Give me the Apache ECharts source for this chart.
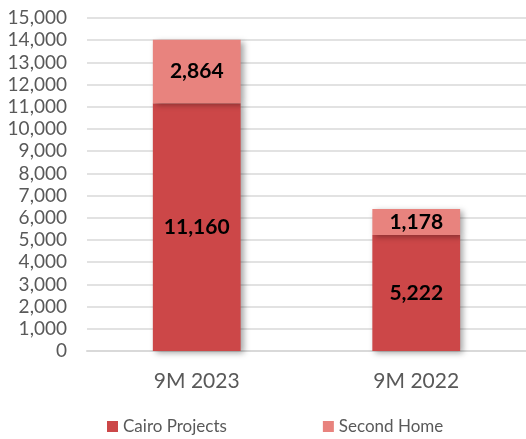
<!DOCTYPE html>
<html><head><meta charset="utf-8">
<script src="https://cdn.jsdelivr.net/npm/echarts@6/dist/echarts.min.js"></script>
<style>html,body{margin:0;padding:0;background:#fff}#c{width:526px;height:439px}</style>
</head><body><div id="c"></div>
<script>
const categories = ['9M 2023', '9M 2022'];
const cairoProjects = [11160, 5222];
const secondHome = [2864, 1178];
const seriesNames = ['Cairo Projects', 'Second Home'];

const chart = echarts.init(document.getElementById('c'));
const font = 'Lato, "Open Sans", sans-serif';
const lbl = {
  show: true, position: 'inside', color: '#000', fontWeight: 'bold', fontSize: 21, fontFamily: font,
  formatter: p => p.value.toLocaleString('en-US')
};
const shadow = {shadowBlur: 6, shadowOffsetX: 3, shadowOffsetY: 2, shadowColor: 'rgba(0,0,0,0.35)'};
chart.setOption({
  animation: false,
  grid: {left: 87, right: 0, top: 18, bottom: 88},
  legend: {
    top: 418, left: 107, padding: 0, itemWidth: 11, itemHeight: 11, itemGap: 96, icon: 'rect',
    textStyle: {fontSize: 17, color: '#595959', fontFamily: font},
    data: seriesNames
  },
  xAxis: {
    type: 'category', data: categories,
    axisLine: {show: true, lineStyle: {color: '#d9d9d9', width: 2}}, axisTick: {show: false},
    axisLabel: {fontSize: 21, color: '#595959', fontFamily: font, margin: 20}
  },
  yAxis: {
    type: 'value', min: 0, max: 15000, interval: 1000,
    axisLine: {show: false}, axisTick: {show: false},
    splitLine: {lineStyle: {color: '#d9d9d9', width: 1.5}},
    axisLabel: {fontSize: 19, color: '#595959', fontFamily: font, margin: 20,
      formatter: v => v.toLocaleString('en-US')}
  },
  series: [
    {name: seriesNames[0], type: 'bar', stack: 'a', data: cairoProjects, barWidth: '40%',
      itemStyle: Object.assign({color: '#CC4748'}, shadow), label: lbl},
    {name: seriesNames[1], type: 'bar', stack: 'a', data: secondHome, barWidth: '40%',
      itemStyle: Object.assign({color: '#E8837E'}, shadow), label: lbl}
  ]
});
</script></body></html>
